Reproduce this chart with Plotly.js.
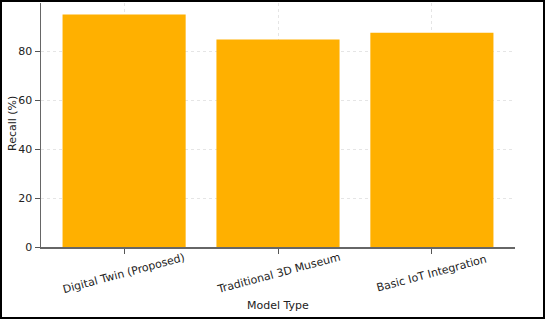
<!DOCTYPE html>
<html><head><meta charset="utf-8">
<script src="https://cdn.plot.ly/plotly-3.0.1.min.js"></script>
<style>
html,body{margin:0;padding:0;background:#fff;}
#wrap{position:relative;width:545px;height:319px;}
#chart{position:absolute;left:0;top:0;width:545px;height:319px;}
#frame{position:absolute;left:0;top:0;width:545px;height:319px;box-sizing:border-box;border:2px solid #000;pointer-events:none;}
</style>
</head><body>
<div id="wrap"><div id="chart"></div><div id="frame"></div></div>
<script>
const categories = ["Digital Twin (Proposed)", "Traditional 3D Museum", "Basic IoT Integration"];
const recall = [95.0, 84.8, 87.6];
const yTicks = [0, 20, 40, 60, 80];

const font = {family: "DejaVu Sans", size: 11, color: "#222"};
const plotH = 319 - 3 - 72;
const plotW = 545 - 41 - 30;
const catAnnotations = categories.map((c, i) => ({
  x: i, xref: "x", y: -0.11, yref: "paper",
  text: c, textangle: -15, showarrow: false,
  xanchor: "center", yanchor: "middle", font: font
}));
catAnnotations.push({
  x: 0.5, xref: "paper", y: (319 - 72 - 305) / plotH, yref: "paper",
  text: "Model Type", showarrow: false, font: font,
  xanchor: "center", yanchor: "middle"
});
catAnnotations.push({
  x: (12 - 41) / plotW, xref: "paper", y: (319 - 72 - 124) / plotH, yref: "paper",
  text: "Recall (%)", textangle: -90, showarrow: false, font: font,
  xanchor: "center", yanchor: "middle"
});

Plotly.newPlot("chart", [{
  type: "bar",
  x: [0, 1, 2],
  y: recall,
  width: 0.8,
  marker: {color: "#FFB000", line: {width: 0}},
  hoverinfo: "skip"
}], {
  width: 545, height: 319,
  margin: {l: 41, r: 30, t: 3, b: 72},
  paper_bgcolor: "#fff", plot_bgcolor: "#fff",
  font: font,
  showlegend: false,
  annotations: catAnnotations,
  xaxis: {
    range: [-0.54, 2.54],
    tickvals: [0, 1, 2], showticklabels: false,
    ticks: "outside", ticklen: 5, tickcolor: "#555", tickwidth: 1,
    showline: true, linecolor: "#666", linewidth: 1.5,
    showgrid: true, gridcolor: "#dedede", griddash: "dot", gridwidth: 0.8,
    zeroline: false
  },
  yaxis: {
    range: [0, 99.75],
    tickvals: yTicks,
    ticks: "outside", ticklen: 5, tickcolor: "#555", tickwidth: 1,
    showline: true, linecolor: "#666", linewidth: 1.5,
    showgrid: true, gridcolor: "#dedede", griddash: "dot", gridwidth: 0.8,
    zeroline: false,
    tickfont: font
  }
}, {staticPlot: true, displayModeBar: false});
</script>
</body></html>
